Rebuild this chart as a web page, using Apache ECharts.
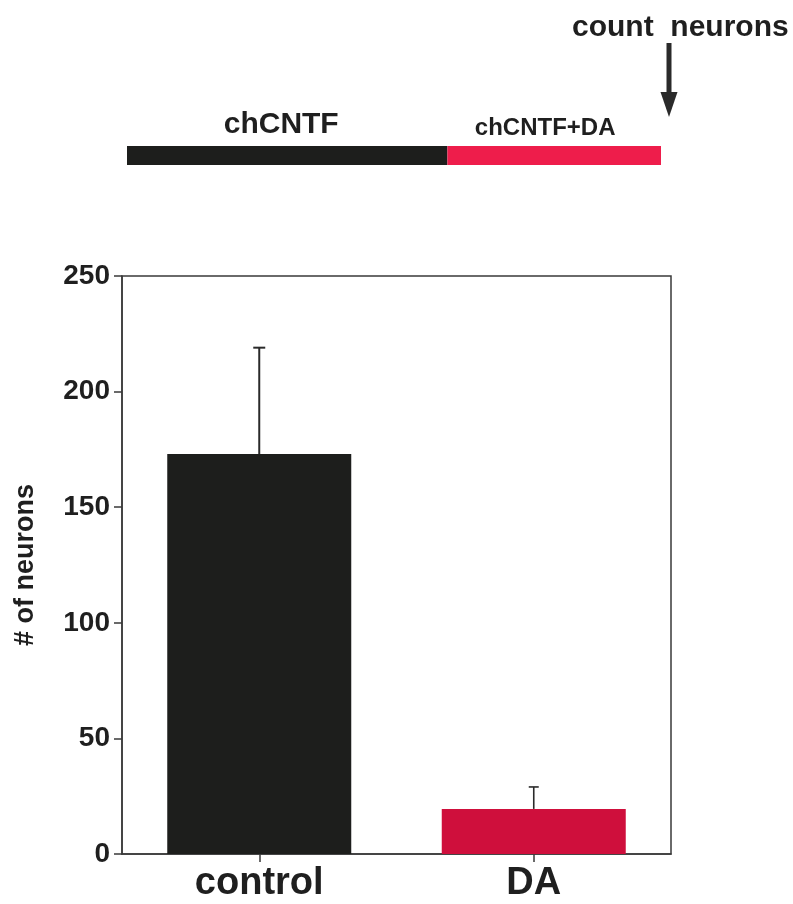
<!DOCTYPE html>
<html>
<head>
<meta charset="utf-8">
<script src="https://cdn.jsdelivr.net/npm/echarts@6/dist/echarts.min.js"></script>
<style>
  html, body { margin: 0; padding: 0; background: #ffffff; }
  #chart { width: 793px; height: 904px; }
</style>
</head>
<body>
<div id="chart"></div>
<script>
// Neuron counts after treatment
const categories = ['control', 'DA'];
const meanCounts = [173, 19.5];
const errorUp = [46, 9.5];
const yTicks = [0, 50, 100, 150, 200, 250];

// Treatment schedule (relative durations)
const stages = ['chCNTF', 'chCNTF+DA'];
const stageDurations = [3, 2];
const stageColors = ['#1d1e1c', '#ee1d4b'];
const barColors = ['#1d1e1c', '#cf0f3c'];

const FONT = "'Liberation Sans', Arial, Helvetica, sans-serif";
const INK = '#1f1f1f';

const chart = echarts.init(document.getElementById('chart'), null, { renderer: 'canvas' });

const errorData = categories.map((c, i) => [i, meanCounts[i], meanCounts[i] + errorUp[i]]);

const stageSeries = stages.map((name, i) => ({
  type: 'bar',
  name: name,
  xAxisIndex: 1,
  yAxisIndex: 1,
  stack: 'schedule',
  barWidth: 19,
  data: [stageDurations[i]],
  itemStyle: { color: stageColors[i] },
  label: {
    show: true,
    position: 'top',
    distance: 6,
    offset: i === 0 ? [-6, 0] : [-9, 0],
    formatter: name,
    fontFamily: FONT,
    fontWeight: 'bold',
    fontSize: i === 0 ? 30 : 24,
    color: INK
  },
  silent: true
}));

const option = {
  backgroundColor: '#ffffff',
  animation: false,
  grid: [
    { left: 122, right: 122, top: 276, bottom: 50, show: true, borderColor: '#3a3a3a', borderWidth: 1.5, backgroundColor: 'transparent' },
    { left: 127, right: 132, top: 146, height: 19 }
  ],
  xAxis: [
    {
      type: 'category',
      gridIndex: 0,
      data: categories,
      axisLine: { show: true, lineStyle: { color: '#3a3a3a', width: 1.5 } },
      axisTick: { show: true, alignWithLabel: true, length: 8, lineStyle: { color: '#3a3a3a', width: 1.5 } },
      axisLabel: { margin: 11, fontFamily: FONT, fontWeight: 'bold', fontSize: 38, color: INK }
    },
    { type: 'value', gridIndex: 1, min: 0, max: 5, show: false }
  ],
  yAxis: [
    {
      type: 'value',
      gridIndex: 0,
      min: 0,
      max: 250,
      interval: 50,
      name: '# of neurons',
      nameLocation: 'middle',
      nameRotate: 90,
      nameGap: 83,
      nameTextStyle: { fontFamily: FONT, fontWeight: 'bold', fontSize: 27, color: INK },
      splitLine: { show: false },
      axisLine: { show: true, lineStyle: { color: '#3a3a3a', width: 1.5 } },
      axisTick: { show: true, length: 8, lineStyle: { color: '#3a3a3a', width: 1.5 } },
      axisLabel: {
        margin: 12,
        fontFamily: FONT,
        fontWeight: 'bold',
        fontSize: 28,
        color: INK,
        formatter: v => (yTicks.indexOf(v) >= 0 ? String(v) : '')
      }
    },
    { type: 'category', gridIndex: 1, data: ['schedule'], show: false }
  ],
  series: [
    {
      type: 'bar',
      xAxisIndex: 0,
      yAxisIndex: 0,
      barWidth: 184,
      data: meanCounts.map((v, i) => ({ value: v, itemStyle: { color: barColors[i] } })),
      silent: true
    },
    {
      type: 'custom',
      xAxisIndex: 0,
      yAxisIndex: 0,
      data: errorData,
      z: 5,
      renderItem: function (params, api) {
        const base = api.coord([api.value(0), api.value(1)]);
        const top = api.coord([api.value(0), api.value(2)]);
        const half = api.value(0) === 0 ? 6 : 5;
        const style = { stroke: '#2a2a2a', lineWidth: api.value(0) === 0 ? 2 : 1.6 };
        return {
          type: 'group',
          children: [
            { type: 'line', shape: { x1: base[0], y1: base[1], x2: top[0], y2: top[1] }, style: style },
            { type: 'line', shape: { x1: top[0] - half, y1: top[1], x2: top[0] + half, y2: top[1] }, style: style }
          ]
        };
      }
    }
  ].concat(stageSeries)
};

chart.setOption(option);

// Arrow marking the end of the schedule, where neurons are counted
const total = stageDurations.reduce((a, b) => a + b, 0);
const endPt = chart.convertToPixel({ xAxisIndex: 1, yAxisIndex: 1 }, [total, 'schedule']);
const ax = endPt[0] + 8;
chart.setOption({
  graphic: [
    {
      type: 'text',
      left: 572,
      top: 13,
      style: { text: 'count  neurons', fontFamily: FONT, fontWeight: 'bold', fontSize: 30, fill: INK }
    },
    {
      type: 'rect',
      shape: { x: ax - 2.5, y: 43, width: 5, height: 52 },
      style: { fill: '#2a2a2a' }
    },
    {
      type: 'polygon',
      shape: { points: [[ax - 8.5, 92], [ax + 8.5, 92], [ax, 117]] },
      style: { fill: '#2a2a2a' }
    }
  ]
});
</script>
</body>
</html>
